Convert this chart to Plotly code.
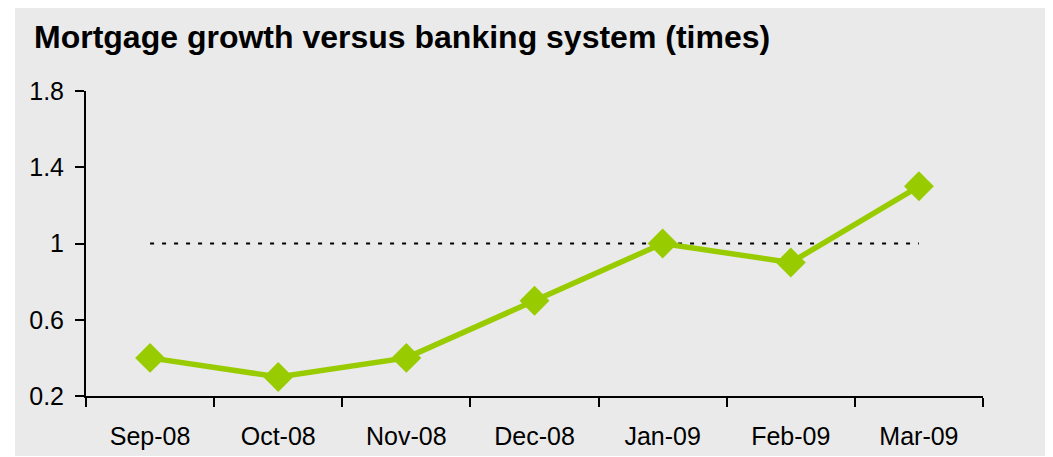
import plotly.graph_objects as go

categories = ["Sep-08", "Oct-08", "Nov-08", "Dec-08", "Jan-09", "Feb-09", "Mar-09"]
mortgage_vs_system = [0.4, 0.3, 0.4, 0.7, 1.0, 0.9, 1.3]
parity_line = [1, 1, 1, 1, 1, 1, 1]
y_tickvals = [0.2, 0.6, 1.0, 1.4, 1.8]
y_ticktext = ["0.2", "0.6", "1", "1.4", "1.8"]
title_text = "Mortgage growth versus banking system (times)"

# page body has an 8px margin, so the figure is drawn offset by (8, 8)
OFF = 8
W, H = 1053, 457
L, R, T, B = 86 - OFF, 78, 91 - OFF, 69
pw, ph = W - L - R, H - T - B

fig = go.Figure()
fig.add_trace(go.Scatter(
    x=categories, y=parity_line, mode="lines",
    line=dict(color="#000000", width=2, dash="4px,8px"),
    hoverinfo="skip", showlegend=False,
))
fig.add_trace(go.Scatter(
    x=categories, y=mortgage_vs_system, mode="lines+markers",
    line=dict(color="#99CC00", width=5.5),
    marker=dict(symbol="diamond", size=23, color="#99CC00"),
    showlegend=False,
))

# gray panel background (figure px: x from 7 to right edge, y from 0 to 448)
fig.add_shape(
    type="rect", xref="paper", yref="paper", layer="below",
    x0=(7 - L) / pw, x1=(W - L) / pw,
    y0=(H - B - 448) / ph, y1=(H - B - 0) / ph,
    fillcolor="#EAEAEA", line=dict(width=0),
)

fig.update_layout(
    width=W, height=H,
    margin=dict(l=L, r=R, t=T, b=B),
    paper_bgcolor="white",
    plot_bgcolor="rgba(0,0,0,0)",
    font=dict(family="Liberation Sans, Arial, sans-serif", size=25, color="black"),
    title=dict(
        text="<b>" + title_text + "</b>",
        font=dict(family="Liberation Sans, Arial, sans-serif", size=32, color="black"),
        xref="container", yref="container",
        x=(34 - OFF) / W, xanchor="left",
        y=1 - (37 - OFF) / H, yanchor="middle",
    ),
    xaxis=dict(
        type="category", range=[-0.5, 6.5],
        tickson="boundaries", ticks="outside", ticklen=9, tickwidth=2, tickcolor="black",
        showline=True, linecolor="black", linewidth=2,
        showgrid=False, zeroline=False,
        ticklabelstandoff=17,
    ),
    yaxis=dict(
        range=[0.2, 1.8], tickvals=y_tickvals, ticktext=y_ticktext,
        ticks="outside", ticklen=9, tickwidth=2, tickcolor="black",
        showline=True, linecolor="black", linewidth=2,
        showgrid=False, zeroline=False,
        ticklabelstandoff=6,
    ),
)

fig.write_html("out.html")
